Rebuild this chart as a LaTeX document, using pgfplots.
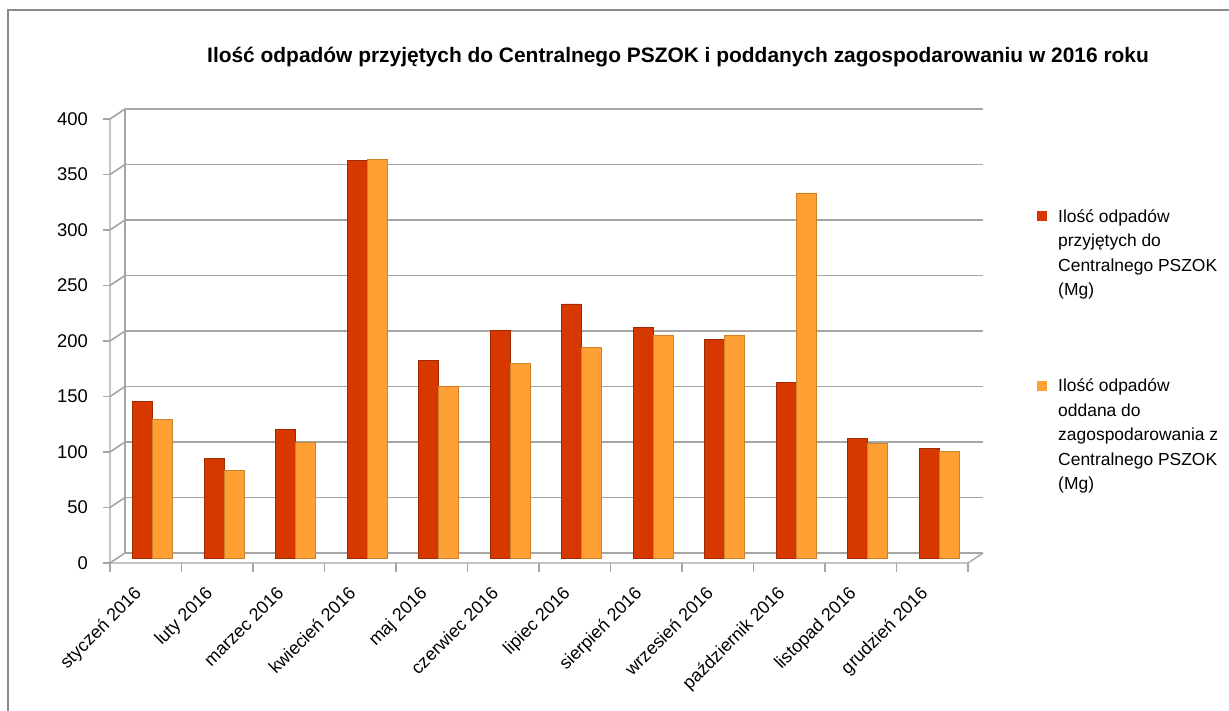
\documentclass[border=0pt]{standalone}
\usepackage{pgfplots}
\pgfplotsset{compat=1.18}
\usepackage{pgfplotstable}
\usepackage{fontspec}
\setmainfont{Liberation Sans}

\definecolor{redbar}{RGB}{214,56,0}
\definecolor{orangebar}{RGB}{255,160,52}
\definecolor{gridc}{RGB}{165,165,165}
\definecolor{framec}{RGB}{140,140,140}

% monthly values, Mg
\pgfplotstableread{
idx przyjete oddane
0  141 125
1   90  79
2  116 104
3  358 359
4  178 155
5  205 175
6  229 190
7  208 201
8  197 201
9  158 329
10 108 103
11  99  96
}\pszok

\tikzset{
  front/.style={xshift=-7bp,yshift=-5bp},
  back/.style={xshift=8bp,yshift=5bp},
}

\begin{document}
\begin{tikzpicture}
\useasboundingbox (0bp,0bp) rectangle (1229bp,-711bp);
% chart frame (only left and top edges are visible)
\draw[framec, line width=1.2bp] (8bp,-711bp) -- (8bp,-10bp) -- (1229bp,-10bp);

\node[font=\fontsize{21}{24}\selectfont\bfseries, anchor=west, inner sep=0pt] at (207bp,-57bp)
  {Ilość odpadów przyjętych do Centralnego PSZOK i poddanych zagospodarowaniu w 2016 roku};

\begin{axis}[
    at={(117bp,-558bp)}, anchor=south west,
    scale only axis,
    width=858bp, height=444bp,
    ybar=0bp, bar width=20bp,
    xmin=-0.5, xmax=11.5,
    ymin=0, ymax=400,
    clip=false,
    axis line style={draw=none},
    major tick length=0pt,
    ytick={0,50,...,400},
    xtick={0,...,11},
    xticklabels={styczeń 2016, luty 2016, marzec 2016, kwiecień 2016, maj 2016,
      czerwiec 2016, lipiec 2016, sierpień 2016, wrzesień 2016,
      październik 2016, listopad 2016, grudzień 2016},
    /pgf/number format/assume math mode=true,
    yticklabel style={font=\fontsize{18.5}{20}\selectfont, anchor=east,
      inner sep=0pt, xshift=-29bp, yshift=-5bp},
    xticklabel style={xshift=-20bp, yshift=-27bp, font=\fontsize{18}{20}\selectfont,
      rotate=45, anchor=north east, inner sep=0pt},
    ymajorgrids,
    major grid style={gridc, line width=1.6bp, back},
    legend style={at={(1.0716,0.795)}, anchor=north west, draw=none,
      fill=none, inner sep=0pt, row sep=151bp,
      nodes={inner sep=0pt, anchor=base west},
      font=\fontsize{17.5}{24.5}\selectfont},
]
% left wall, floor edges and front axes
\pgfplotsinvokeforeach{0,50,...,400}{
  \draw[gridc, line width=1.6bp] ([front]axis cs:-0.5,#1) -- ([back]axis cs:-0.5,#1);
  \draw[gridc, line width=1.2bp] ([front]axis cs:-0.5,#1) -- ([front,xshift=-7bp]axis cs:-0.5,#1);
}
\draw[gridc, line width=1.2bp] ([back]axis cs:-0.5,0) -- ([back]axis cs:-0.5,400);
\draw[gridc, line width=1.4bp] ([front]axis cs:-0.5,400) -- ([front]axis cs:-0.5,0)
  -- ([front]axis cs:11.5,0) -- ([back]axis cs:11.5,0);
\pgfplotsinvokeforeach{-0.5,0.5,...,11.5}{
  \draw[gridc, line width=1.2bp] ([front]axis cs:#1,0) -- ([front,yshift=-9bp]axis cs:#1,0);
}

\addplot[fill=redbar, draw=redbar!75!black, line width=0.6bp,
  legend image code/.code={\fill[redbar] (0bp,2bp) rectangle (9bp,11bp); \path (21bp,0bp);}]
  table[x=idx, y=przyjete] {\pszok};
\addplot[fill=orangebar, draw=orangebar!80!black, line width=0.6bp,
  legend image code/.code={\fill[orangebar] (0bp,2bp) rectangle (9bp,11bp); \path (21bp,0bp);}]
  table[x=idx, y=oddane] {\pszok};
\addlegendentry{\begin{tabular}[t]{@{}l@{}}Ilość odpadów\\przyjętych do\\Centralnego PSZOK\\(Mg)\end{tabular}}
\addlegendentry{\begin{tabular}[t]{@{}l@{}}Ilość odpadów\\oddana do\\zagospodarowania z\\Centralnego PSZOK\\(Mg)\end{tabular}}
\end{axis}
\end{tikzpicture}
\end{document}
